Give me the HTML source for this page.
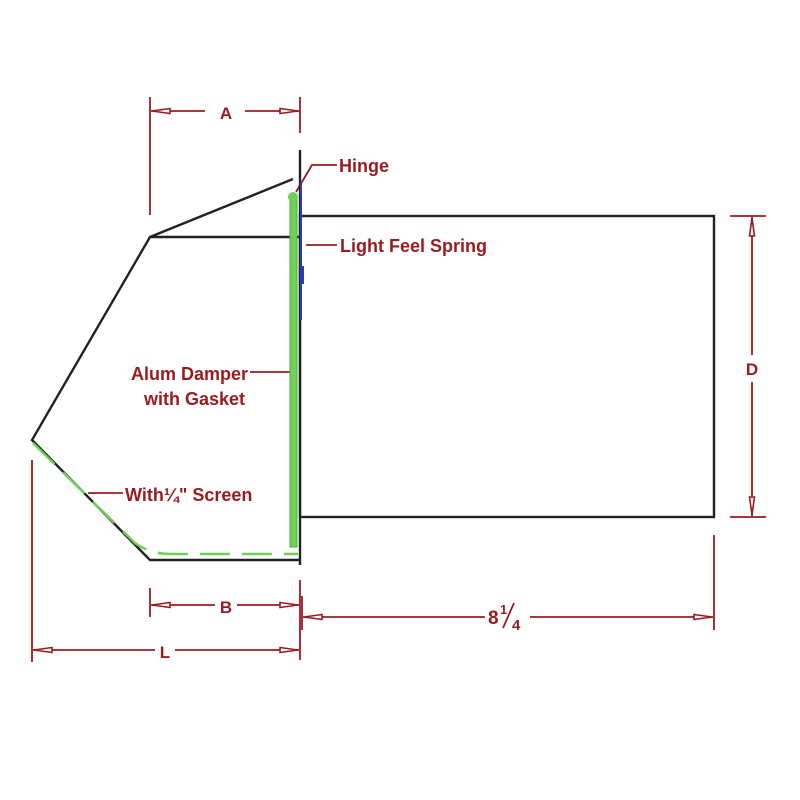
<!DOCTYPE html>
<html><head><meta charset="utf-8"><style>
html,body{margin:0;padding:0;background:#fff}
svg{display:block}
text{font-family:"Liberation Sans",sans-serif;fill:#9b1b1f;font-weight:bold}
</style></head><body>
<svg width="800" height="800" viewBox="0 0 800 800" xmlns="http://www.w3.org/2000/svg">
<defs>
<marker id="ar" viewBox="0 0 20 8" refX="20" refY="4" markerWidth="20" markerHeight="8" markerUnits="userSpaceOnUse" orient="auto">
<path d="M1,1.5 L19,4 L1,6.5 Z" fill="#fff" stroke="#9b1b1f" stroke-width="1.6"/>
</marker>
</defs>
<g stroke="#9b1b1f" stroke-width="1.8" fill="none">
<line x1="150" y1="97" x2="150" y2="215"/>
<line x1="300" y1="97" x2="300" y2="133"/>
<line x1="205" y1="111" x2="151" y2="111" marker-end="url(#ar)"/>
<line x1="245" y1="111" x2="299" y2="111" marker-end="url(#ar)"/>
<line x1="730" y1="216" x2="766" y2="216"/>
<line x1="730" y1="517" x2="766" y2="517"/>
<line x1="752" y1="355" x2="752" y2="217" marker-end="url(#ar)"/>
<line x1="752" y1="382" x2="752" y2="516" marker-end="url(#ar)"/>
<line x1="150" y1="588" x2="150" y2="617"/>
<line x1="300" y1="580" x2="300" y2="660"/>
<line x1="215" y1="605" x2="151" y2="605" marker-end="url(#ar)"/>
<line x1="237" y1="605" x2="299" y2="605" marker-end="url(#ar)"/>
<line x1="714" y1="535" x2="714" y2="630"/>
<line x1="302" y1="596" x2="302" y2="630"/>
<line x1="485" y1="617" x2="303" y2="617" marker-end="url(#ar)"/>
<line x1="530" y1="617" x2="713" y2="617" marker-end="url(#ar)"/>
<line x1="32" y1="460" x2="32" y2="662"/>
<line x1="155" y1="650" x2="33" y2="650" marker-end="url(#ar)"/>
<line x1="175" y1="650" x2="299" y2="650" marker-end="url(#ar)"/>
<path d="M337,165 L312,165 L296,192"/>
<line x1="337" y1="245" x2="306" y2="245"/>
<line x1="250" y1="372" x2="292" y2="372"/>
<line x1="123" y1="493" x2="88" y2="493"/>
</g>
<g stroke="#222" stroke-width="2.4" fill="none">
<line x1="300" y1="150" x2="300" y2="565"/>
<path d="M293,179 L150,237 L32,440 L150,560 L300,560"/>
<line x1="150" y1="237" x2="300" y2="237"/>
<rect x="300" y="216" width="414" height="301"/>
</g>
<rect x="290" y="197" width="7" height="350" fill="#6fd05a" stroke="#4eb03a" stroke-width="1"/>
<circle cx="293" cy="197" r="5" fill="#6fd05a"/>
<line x1="301" y1="182" x2="301" y2="320" stroke="#2b3bb5" stroke-width="2"/>
<rect x="300" y="266" width="4" height="18" fill="#2b3bb5"/>
<path d="M33,443 L135,543 Q150,554 170,554 L298,554" stroke="#6fd05a" stroke-width="2.5" fill="none" stroke-dasharray="30,12"/>
<text x="226" y="119" font-size="17" text-anchor="middle">A</text>
<text x="752" y="375" font-size="17" text-anchor="middle">D</text>
<text x="226" y="613" font-size="17" text-anchor="middle">B</text>
<text x="165" y="658" font-size="17" text-anchor="middle">L</text>
<text x="488" y="624" font-size="19">8</text>
<text x="500" y="614" font-size="13">1</text>
<line x1="514" y1="603" x2="503" y2="628" stroke="#9b1b1f" stroke-width="1.8"/>
<text x="512" y="630" font-size="15">4</text>
<text x="339" y="172" font-size="18">Hinge</text>
<text x="340" y="252" font-size="18">Light Feel Spring</text>
<text x="248" y="380" font-size="18" text-anchor="end">Alum  Damper</text>
<text x="245" y="405" font-size="18" text-anchor="end">with Gasket</text>
<text x="125" y="501" font-size="18">With¼" Screen</text>
</svg>
</body></html>
